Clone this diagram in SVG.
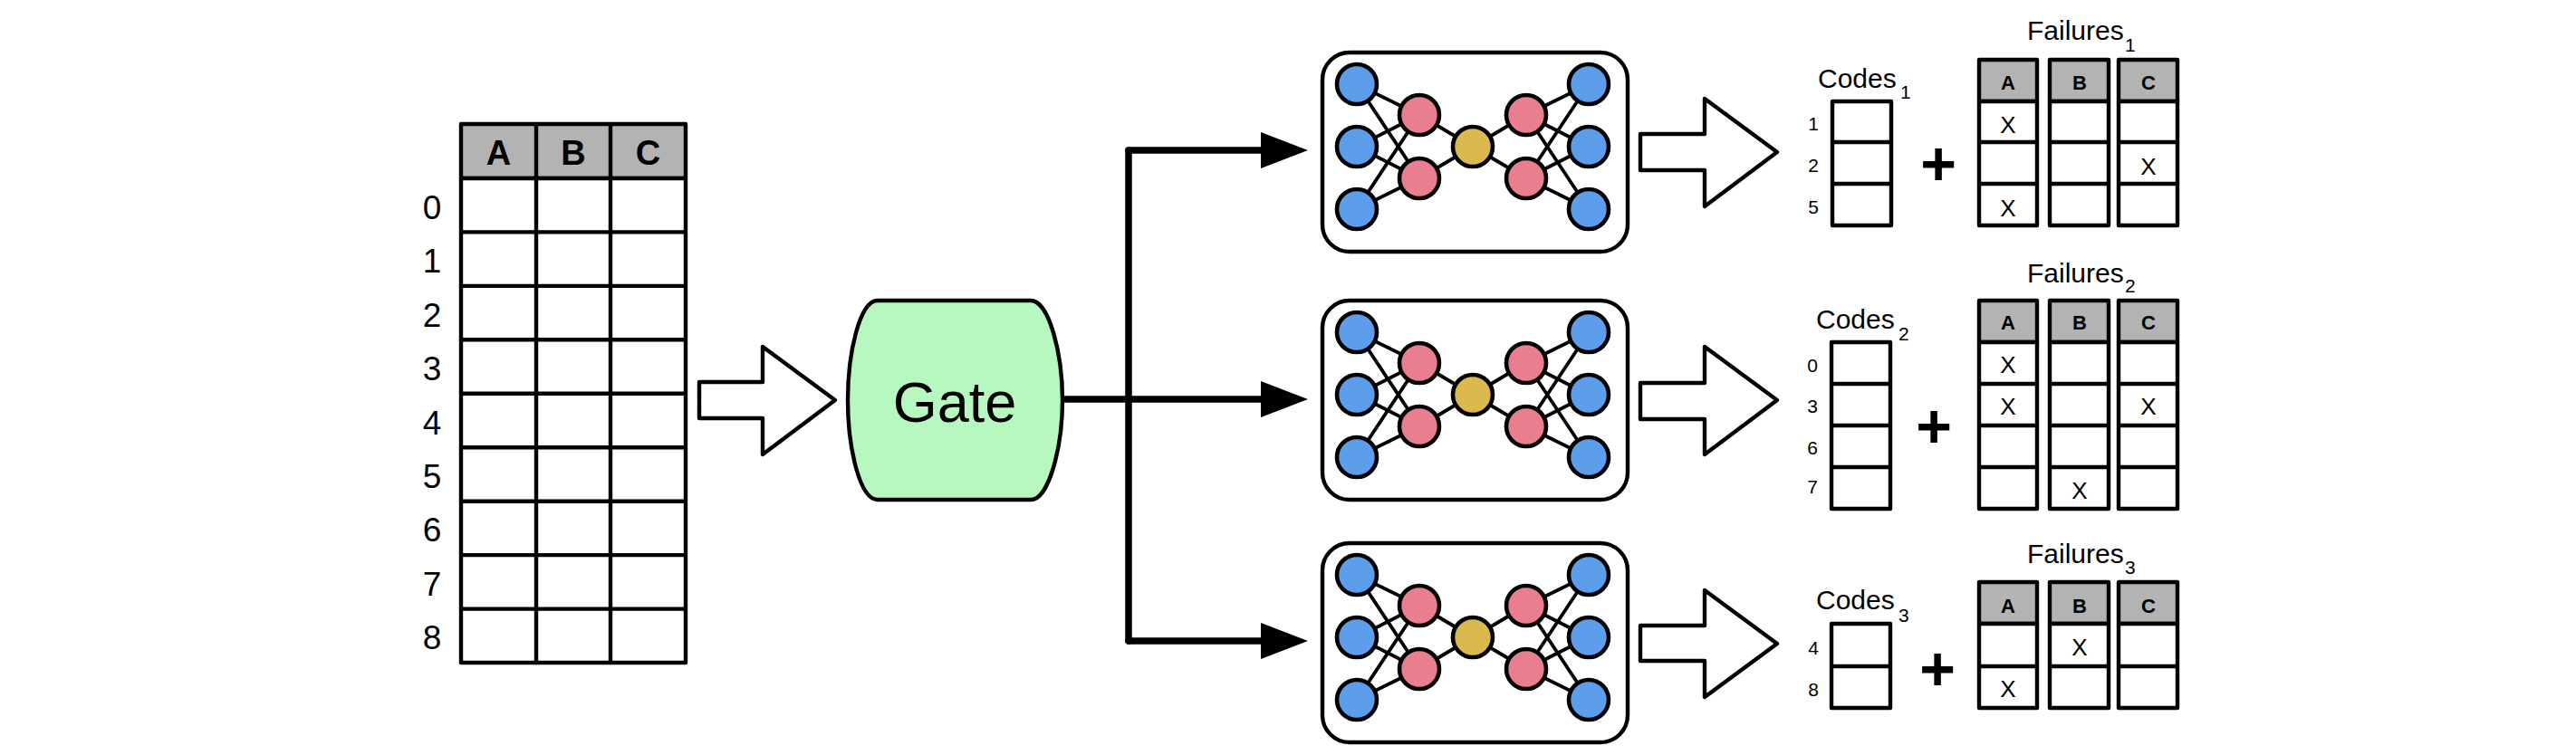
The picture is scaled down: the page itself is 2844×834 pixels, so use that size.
<svg xmlns="http://www.w3.org/2000/svg" xmlns:xlink="http://www.w3.org/1999/xlink" width="2844" height="834" viewBox="0 0 2844 834">
  <style>
    text { font-family: "Liberation Sans", Arial, sans-serif; fill: #000; }
    .grid { fill: #fff; stroke: #000; stroke-width: 4.4; stroke-linejoin: round; }
    .rule { fill: none; stroke: #000; stroke-width: 4.4; }
    .head { fill: #b3b3b3; stroke: #000; stroke-width: 4.4; stroke-linejoin: round; }
    .hollow { fill: #fff; stroke: #000; stroke-width: 4.4; stroke-linejoin: round; }
    .wire { fill: none; stroke: #000; stroke-width: 7.5; stroke-linejoin: round; stroke-linecap: round; }
    .edge { stroke: #000; stroke-width: 3.8; }
    .box { fill: #fff; stroke: #000; stroke-width: 4.4; }
    .blue { fill: #5c9eea; stroke: #000; stroke-width: 4.6; }
    .pink { fill: #e87e8e; stroke: #000; stroke-width: 4.6; }
    .gold { fill: #dcb94f; stroke: #000; stroke-width: 4.6; }
    .idx { font-size: 37px; text-anchor: middle; }
    .th { font-size: 38px; font-weight: bold; text-anchor: middle; }
    .th-s { font-size: 22px; font-weight: bold; text-anchor: middle; }
    .row { font-size: 21px; text-anchor: middle; }
    .mark { font-size: 26px; text-anchor: middle; }
    .title { font-size: 30px; }
    .sub { font-size: 21px; }
    .plus { font-size: 68px; font-weight: bold; text-anchor: middle; }
  </style>
  <defs>
    <marker id="tip" markerUnits="userSpaceOnUse" markerWidth="52" markerHeight="40" refX="0" refY="20" orient="auto" overflow="visible">
      <path d="M0,0 L52,20 L0,40 Z" fill="#000"/>
    </marker>
    <!-- Autoencoder network, laid out for a frame whose top edge is y=58 -->
    <g id="net">
      <rect class="box" x="1460" y="58" width="337" height="220" rx="30" ry="30"/>
      <g class="edge">
        <line x1="1498" y1="93" x2="1567" y2="127"/>
        <line x1="1498" y1="93" x2="1567" y2="197"/>
        <line x1="1498" y1="162" x2="1567" y2="127"/>
        <line x1="1498" y1="162" x2="1567" y2="197"/>
        <line x1="1498" y1="231" x2="1567" y2="127"/>
        <line x1="1498" y1="231" x2="1567" y2="197"/>
        <line x1="1567" y1="127" x2="1626" y2="162"/>
        <line x1="1567" y1="197" x2="1626" y2="162"/>
        <line x1="1685" y1="127" x2="1626" y2="162"/>
        <line x1="1685" y1="197" x2="1626" y2="162"/>
        <line x1="1754" y1="93" x2="1685" y2="127"/>
        <line x1="1754" y1="93" x2="1685" y2="197"/>
        <line x1="1754" y1="162" x2="1685" y2="127"/>
        <line x1="1754" y1="162" x2="1685" y2="197"/>
        <line x1="1754" y1="231" x2="1685" y2="127"/>
        <line x1="1754" y1="231" x2="1685" y2="197"/>
      </g>
      <circle class="blue" cx="1498" cy="93" r="22"/>
      <circle class="blue" cx="1498" cy="162" r="22"/>
      <circle class="blue" cx="1498" cy="231" r="22"/>
      <circle class="pink" cx="1567" cy="127" r="22"/>
      <circle class="pink" cx="1567" cy="197" r="22"/>
      <circle class="gold" cx="1626" cy="162" r="22"/>
      <circle class="pink" cx="1685" cy="127" r="22"/>
      <circle class="pink" cx="1685" cy="197" r="22"/>
      <circle class="blue" cx="1754" cy="93" r="22"/>
      <circle class="blue" cx="1754" cy="162" r="22"/>
      <circle class="blue" cx="1754" cy="231" r="22"/>
    </g>
  </defs>

  <rect width="2844" height="834" fill="#fff"/>

  <g id="connectors">
    <path class="wire" d="M1246,166 V708"/>
    <path class="wire" d="M1246,166 H1392" marker-end="url(#tip)"/>
    <path class="wire" d="M1174,441 H1392" marker-end="url(#tip)"/>
    <path class="wire" d="M1246,708 H1392" marker-end="url(#tip)"/>
  </g>

  <g id="source-table">
    <rect class="head" x="509" y="137" width="248" height="60"/>
    <rect class="grid" x="509" y="197" width="248" height="535"/>
    <path class="rule" d="M592,137 V732 M674,137 V732 M509,256.4 H757 M509,315.9 H757 M509,375.3 H757 M509,434.8 H757 M509,494.2 H757 M509,553.7 H757 M509,613.1 H757 M509,672.6 H757"/>
    <text class="th" x="550.5" y="182">A</text>
    <text class="th" x="633" y="182">B</text>
    <text class="th" x="715.5" y="182">C</text>
    <text class="idx" x="477" y="242">0</text>
    <text class="idx" x="477" y="301">1</text>
    <text class="idx" x="477" y="361">2</text>
    <text class="idx" x="477" y="420">3</text>
    <text class="idx" x="477" y="480">4</text>
    <text class="idx" x="477" y="539">5</text>
    <text class="idx" x="477" y="598">6</text>
    <text class="idx" x="477" y="658">7</text>
    <text class="idx" x="477" y="717">8</text>
  </g>

  <polygon id="arrow-in" class="hollow" points="772,422 842,422 842,383 922,442 842,502 842,462 772,462"/>

  <g id="gate">
    <path d="M969,332 H1138 C1158,332 1173,390 1173,442 C1173,494 1158,552 1138,552 H969 C949,552 936,494 936,442 C936,390 949,332 969,332 Z" fill="#b6f8c0" stroke="#000" stroke-width="4.4"/>
    <text x="1054" y="466" font-size="63" text-anchor="middle">Gate</text>
  </g>

  <g id="model-1"><use href="#net" xlink:href="#net"/></g>
  <g id="model-2"><use href="#net" xlink:href="#net" transform="translate(0,274)"/></g>
  <g id="model-3"><use href="#net" xlink:href="#net" transform="translate(0,542)"/></g>

  <polygon id="arrow-out-1" class="hollow" points="1811,148 1882,148 1882,109 1962,168 1882,228 1882,188 1811,188"/>
  <polygon id="arrow-out-2" class="hollow" points="1811,423 1882,423 1882,383 1962,442 1882,502 1882,463 1811,463"/>
  <polygon id="arrow-out-3" class="hollow" points="1811,691 1882,691 1882,652 1962,711 1882,770 1882,730 1811,730"/>

  <g id="codes-1">
    <text class="title" x="2007" y="97">Codes</text>
    <text class="sub" x="2098" y="109">1</text>
    <rect class="grid" x="2023" y="112" width="65" height="137"/>
    <path class="rule" d="M2023,157 H2088 M2023,203 H2088"/>
    <text class="row" x="2002" y="144">1</text>
    <text class="row" x="2002" y="190">2</text>
    <text class="row" x="2002" y="236">5</text>
  </g>
  <text class="plus" x="2140" y="204">+</text>
  <g id="failures-1">
    <text class="title" x="2238" y="44">Failures</text>
    <text class="sub" x="2346" y="57">1</text>
    <rect class="head" x="2185" y="66" width="64" height="46"/>
    <rect class="head" x="2263" y="66" width="65" height="46"/>
    <rect class="head" x="2339" y="66" width="65" height="46"/>
    <rect class="grid" x="2185" y="112" width="64" height="137"/>
    <rect class="grid" x="2263" y="112" width="65" height="137"/>
    <rect class="grid" x="2339" y="112" width="65" height="137"/>
    <path class="rule" d="M2185,157 H2249 M2185,203 H2249 M2263,157 H2328 M2263,203 H2328 M2339,157 H2404 M2339,203 H2404"/>
    <text class="th-s" x="2217" y="99">A</text>
    <text class="th-s" x="2296" y="99">B</text>
    <text class="th-s" x="2372" y="99">C</text>
    <text class="mark" x="2217" y="147">X</text>
    <text class="mark" x="2372" y="193">X</text>
    <text class="mark" x="2217" y="239">X</text>
  </g>

  <g id="codes-2">
    <text class="title" x="2005" y="363">Codes</text>
    <text class="sub" x="2096" y="376">2</text>
    <rect class="grid" x="2022" y="378" width="65" height="184"/>
    <path class="rule" d="M2022,424 H2087 M2022,470 H2087 M2022,516 H2087"/>
    <text class="row" x="2001" y="411">0</text>
    <text class="row" x="2001" y="456">3</text>
    <text class="row" x="2001" y="502">6</text>
    <text class="row" x="2001" y="545">7</text>
  </g>
  <text class="plus" x="2135" y="494">+</text>
  <g id="failures-2">
    <text class="title" x="2238" y="312">Failures</text>
    <text class="sub" x="2346" y="323">2</text>
    <rect class="head" x="2185" y="332" width="64" height="46"/>
    <rect class="head" x="2263" y="332" width="65" height="46"/>
    <rect class="head" x="2339" y="332" width="65" height="46"/>
    <rect class="grid" x="2185" y="378" width="64" height="184"/>
    <rect class="grid" x="2263" y="378" width="65" height="184"/>
    <rect class="grid" x="2339" y="378" width="65" height="184"/>
    <path class="rule" d="M2185,424 H2249 M2185,470 H2249 M2185,516 H2249 M2263,424 H2328 M2263,470 H2328 M2263,516 H2328 M2339,424 H2404 M2339,470 H2404 M2339,516 H2404"/>
    <text class="th-s" x="2217" y="364">A</text>
    <text class="th-s" x="2296" y="364">B</text>
    <text class="th-s" x="2372" y="364">C</text>
    <text class="mark" x="2217" y="412">X</text>
    <text class="mark" x="2217" y="458">X</text>
    <text class="mark" x="2372" y="458">X</text>
    <text class="mark" x="2296" y="551">X</text>
  </g>

  <g id="codes-3">
    <text class="title" x="2005" y="673">Codes</text>
    <text class="sub" x="2096" y="687">3</text>
    <rect class="grid" x="2022" y="689" width="65" height="93"/>
    <path class="rule" d="M2022,736 H2087"/>
    <text class="row" x="2002" y="723">4</text>
    <text class="row" x="2002" y="769">8</text>
  </g>
  <text class="plus" x="2139" y="762">+</text>
  <g id="failures-3">
    <text class="title" x="2238" y="622">Failures</text>
    <text class="sub" x="2346" y="634">3</text>
    <rect class="head" x="2185" y="643" width="64" height="46"/>
    <rect class="head" x="2263" y="643" width="65" height="46"/>
    <rect class="head" x="2339" y="643" width="65" height="46"/>
    <rect class="grid" x="2185" y="689" width="64" height="93"/>
    <rect class="grid" x="2263" y="689" width="65" height="93"/>
    <rect class="grid" x="2339" y="689" width="65" height="93"/>
    <path class="rule" d="M2185,736 H2249 M2263,736 H2328 M2339,736 H2404"/>
    <text class="th-s" x="2217" y="677">A</text>
    <text class="th-s" x="2296" y="677">B</text>
    <text class="th-s" x="2372" y="677">C</text>
    <text class="mark" x="2296" y="724">X</text>
    <text class="mark" x="2217" y="770">X</text>
  </g>
</svg>
